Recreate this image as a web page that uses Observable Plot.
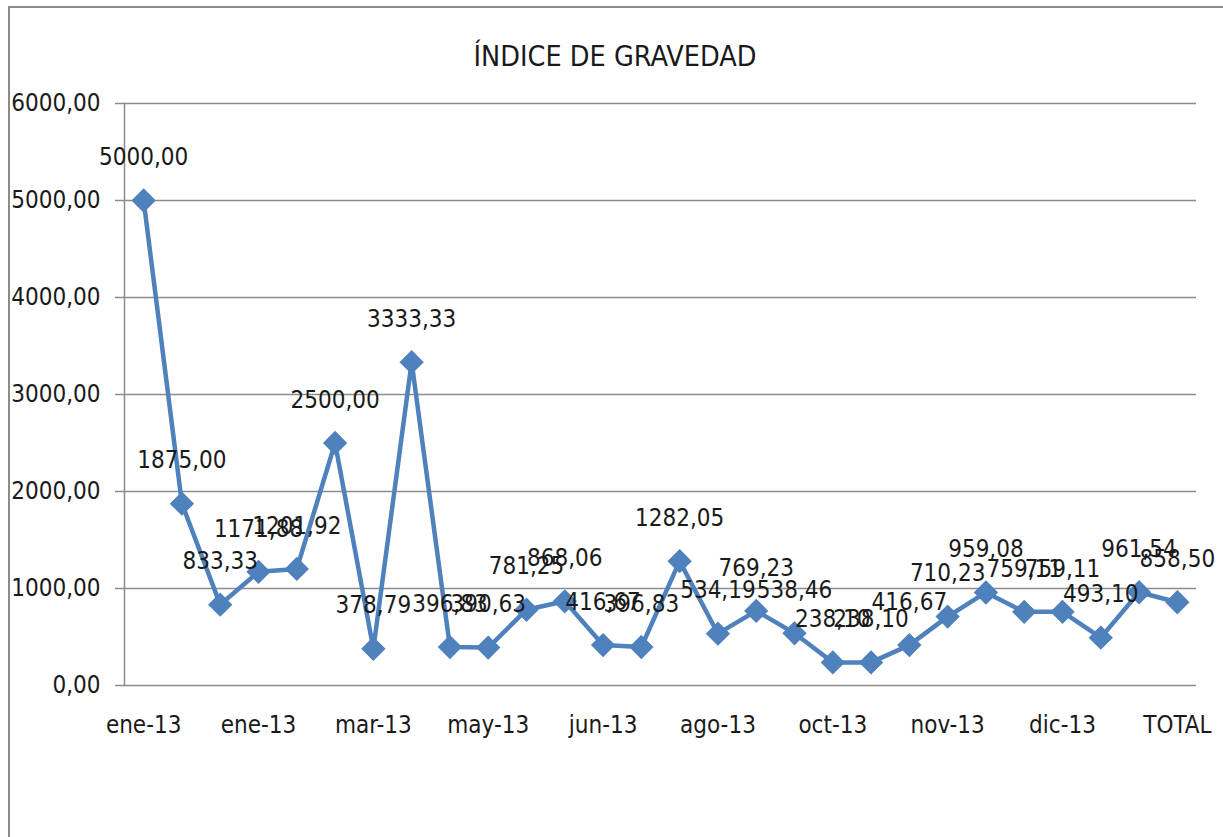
<!DOCTYPE html>
<html>
<head>
<meta charset="utf-8">
<script src="https://cdn.jsdelivr.net/npm/d3@7"></script>
<script src="https://cdn.jsdelivr.net/npm/@observablehq/plot@0.6"></script>
<style>
  html, body { margin: 0; padding: 0; background: #fff; }
  #wrap { position: relative; width: 1223px; height: 837px; overflow: hidden; font-family: "Liberation Sans Narrow", "DejaVu Sans Condensed", sans-serif; }
  #frame { position: absolute; left: 8px; top: 6px; width: 1300px; height: 900px; border-left: 2px solid #8c8c8c; border-top: 2px solid #8c8c8c; }
  #title { position: absolute; left: 0; width: 1230px; top: 40px; text-align: center; font-size: 28.5px; color: #1a1a1a; }
  #chart { position: absolute; left: 0; top: 0; }
</style>
</head>
<body>
<div id="wrap">
  <div id="frame"></div>
  <div id="chart"></div>
  <div id="title">ÍNDICE DE GRAVEDAD</div>
</div>
<script>
// Data
const tickLabels = ["ene-13", "ene-13", "mar-13", "may-13", "jun-13", "ago-13", "oct-13", "nov-13", "dic-13", "TOTAL"];
const values = [5000.00, 1875.00, 833.33, 1171.88, 1201.92, 2500.00, 378.79, 3333.33, 396.83, 390.63,
                781.25, 868.06, 416.67, 396.83, 1282.05, 534.19, 769.23, 538.46, 238.10, 238.10,
                416.67, 710.23, 959.08, 759.11, 759.11, 493.10, 961.54, 858.50];
const yTicks = [0, 1000, 2000, 3000, 4000, 5000, 6000];

const data = values.map((v, i) => ({i, v}));
const fmt = v => d3.format(".2f")(v).replace(".", ",");
const font = '"Liberation Sans Narrow", "DejaVu Sans Condensed", sans-serif';
const blue = "#4f81bd";
const fs = 24;

const chart = Plot.plot({
  width: 1223,
  height: 837,
  marginLeft: 124,
  marginRight: 27,
  marginTop: 103,
  marginBottom: 152,
  style: {fontFamily: font, fontSize: fs + "px", color: "#1a1a1a", background: "transparent", overflow: "visible"},
  x: {type: "point", domain: d3.range(values.length), padding: 0.5, round: false, axis: null, label: null},
  y: {domain: [0, 6000], axis: null, label: null},
  marks: [
    Plot.ruleY(yTicks, {stroke: "#8c8c8c", strokeWidth: 1.5}),
    Plot.frame({anchor: "left", stroke: "#8c8c8c", strokeWidth: 1.5}),
    Plot.axisY(yTicks, {anchor: "left", label: null, tickSize: 9, tickPadding: 15, tickFormat: fmt, stroke: "#8c8c8c", strokeWidth: 1.5, strokeOpacity: 1, fontSize: fs, fill: "#1a1a1a"}),
    Plot.axisX(d3.range(0, values.length, 3), {anchor: "bottom", label: null, tickSize: 0, tickPadding: 30, tickFormat: i => tickLabels[i / 3], fontSize: fs, fill: "#1a1a1a"}),
    Plot.line(data, {x: "i", y: "v", stroke: blue, strokeWidth: 4.5}),
    Plot.dot(data, {x: "i", y: "v", symbol: "diamond2", r: 10, fill: blue, stroke: blue}),
    Plot.text(data, {x: "i", y: "v", text: d => fmt(d.v), dy: -43, fontSize: fs, fill: "#1a1a1a"})
  ]
});
document.getElementById("chart").appendChild(chart);
</script>
</body>
</html>
